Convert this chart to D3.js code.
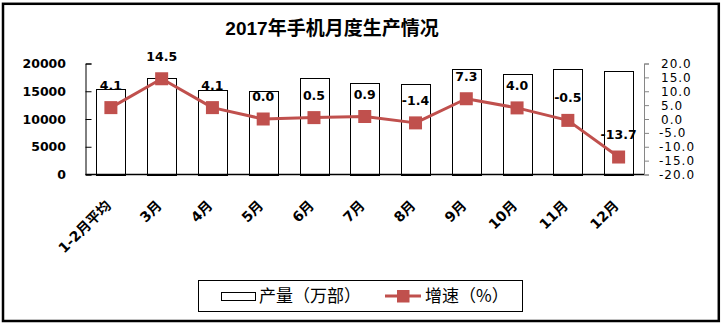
<!DOCTYPE html>
<html>
<head>
<meta charset="utf-8">
<script src="https://cdn.jsdelivr.net/npm/d3@7/dist/d3.min.js"></script>
<style>
  html, body { margin: 0; padding: 0; background: #fff; }
  svg { display: block; }
</style>
</head>
<body>
<svg id="chart" width="723" height="327"></svg>
<script>
// Monthly mobile phone output, 2017
const categories = ["1-2月平均", "3月", "4月", "5月", "6月", "7月", "8月", "9月", "10月", "11月", "12月"];
const output = [15400, 17350, 15200, 15050, 17350, 16450, 16350, 18950, 18050, 18950, 18600]; // 万部
const growth = [4.1, 14.5, 4.1, 0.0, 0.5, 0.9, -1.4, 7.3, 4.0, -0.5, -13.7];              // %
const leftTicks = [0, 5000, 10000, 15000, 20000];
const rightTicks = [-20, -15, -10, -5, 0, 5, 10, 15, 20];
const titleText = "2017年手机月度生产情况";
const legendBar = "产量（万部）";
const legendLine = "增速（%）";

const RED = "#C0504D";
const LATIN = "'DejaVu Sans', 'Noto Sans CJK SC', sans-serif";
const fmt1 = v => v.toFixed(1);   // plain hyphen for negatives

const svg = d3.select("#chart");

// outer frame
svg.append("rect")
  .attr("x", 3).attr("y", 3.8).attr("width", 715.8).attr("height", 317.2)
  .attr("fill", "none").attr("stroke", "#000").attr("stroke-width", 2.5);

// title
svg.append("text")
  .attr("x", 332).attr("y", 35)
  .attr("text-anchor", "middle")
  .attr("font-family", "'Liberation Sans', 'Noto Sans CJK SC', sans-serif")
  .attr("font-weight", "bold").attr("font-size", 19)
  .text(titleText);

const plotLeft = 85.5, plotRight = 644, plotTop = 63.5, plotBottom = 174.5;

const x = d3.scaleBand().domain(categories).range([plotLeft, plotRight])
  .paddingInner(0.43).paddingOuter(0.215);
const yL = d3.scaleLinear().domain([0, 20000]).range([plotBottom, plotTop]);
const yR = d3.scaleLinear().domain([-20, 20]).range([plotBottom, plotTop]);
const cx = d => x(d) + x.bandwidth() / 2;

// bars
svg.append("g").selectAll("rect").data(output).join("rect")
  .attr("x", (d, i) => Math.round(x(categories[i])) + 0.5)
  .attr("y", d => Math.round(yL(d)) + 0.5)
  .attr("width", Math.round(x.bandwidth()))
  .attr("height", d => Math.round(plotBottom) - Math.round(yL(d)))
  .attr("fill", "#fff").attr("stroke", "#000").attr("stroke-width", 1);

// left axis: ticks point inward, labels drawn separately
const gL = svg.append("g").attr("transform", `translate(${plotLeft},0)`)
  .call(d3.axisLeft(yL).tickValues(leftTicks).tickSize(-6).tickFormat(""));
gL.select(".domain").attr("stroke", "#000");
gL.selectAll(".tick line").attr("stroke", "#000");
svg.append("g").selectAll("text").data(leftTicks).join("text")
  .attr("x", 66).attr("y", d => yL(d) + 4.5)
  .attr("text-anchor", "end")
  .attr("font-family", LATIN).attr("font-weight", "bold").attr("font-size", 12.5)
  .text(d => d);

// right axis
const gR = svg.append("g").attr("transform", `translate(${plotRight},0)`)
  .call(d3.axisRight(yR).tickValues(rightTicks).tickSize(5).tickFormat(""));
gR.select(".domain").attr("stroke", "#868686");
gR.selectAll(".tick line").attr("stroke", "#868686");
svg.append("g").selectAll("text").data(rightTicks).join("text")
  .attr("x", d => d < 0 ? 659 : 661).attr("y", d => yR(d) + 4.5)
  .attr("font-family", LATIN).attr("font-size", 12).attr("letter-spacing", 1)
  .text(d => fmt1(d));

// category axis baseline
svg.append("line")
  .attr("x1", plotLeft).attr("x2", plotRight).attr("y1", plotBottom).attr("y2", plotBottom)
  .attr("stroke", "#000").attr("stroke-width", 1.5);

// category labels, rotated
svg.append("g").selectAll("text").data(categories).join("text")
  .attr("transform", d => `translate(${cx(d) + 1},${plotBottom + 32}) rotate(-45)`)
  .attr("text-anchor", "end")
  .attr("font-family", LATIN).attr("font-weight", "bold").attr("font-size", 14)
  .text(d => d);

// growth line
const line = d3.line().x((d, i) => cx(categories[i])).y(d => yR(d));
svg.append("path").datum(growth)
  .attr("d", line).attr("fill", "none")
  .attr("stroke", RED).attr("stroke-width", 3).attr("stroke-linejoin", "round");
svg.append("g").selectAll("rect").data(growth).join("rect")
  .attr("x", (d, i) => cx(categories[i]) - 6.5)
  .attr("y", d => yR(d) - 6.5)
  .attr("width", 13).attr("height", 13)
  .attr("fill", RED);

// value labels above points
svg.append("g").selectAll("text").data(growth).join("text")
  .attr("x", (d, i) => cx(categories[i]))
  .attr("y", d => yR(d) - 18)
  .attr("text-anchor", "middle")
  .attr("font-family", LATIN).attr("font-weight", "bold").attr("font-size", 12.5)
  .text(d => fmt1(d));

// legend
const lg = svg.append("g");
lg.append("rect").attr("x", 198.5).attr("y", 280.5).attr("width", 324).attr("height", 31)
  .attr("fill", "#fff").attr("stroke", "#000").attr("stroke-width", 1);
lg.append("rect").attr("x", 221.5).attr("y", 292.5).attr("width", 34).attr("height", 8)
  .attr("fill", "#fff").attr("stroke", "#000").attr("stroke-width", 1);
lg.append("text").attr("x", 259).attr("y", 302)
  .attr("font-family", "'Noto Sans CJK SC', sans-serif").attr("font-size", 17)
  .text(legendBar);
lg.append("line").attr("x1", 385).attr("x2", 421).attr("y1", 296).attr("y2", 296)
  .attr("stroke", RED).attr("stroke-width", 3);
lg.append("rect").attr("x", 397).attr("y", 290).attr("width", 12.5).attr("height", 12.5)
  .attr("fill", RED);
lg.append("text").attr("x", 425).attr("y", 302)
  .attr("font-family", "'Noto Sans CJK SC', sans-serif").attr("font-size", 17)
  .text(legendLine);
</script>
</body>
</html>
